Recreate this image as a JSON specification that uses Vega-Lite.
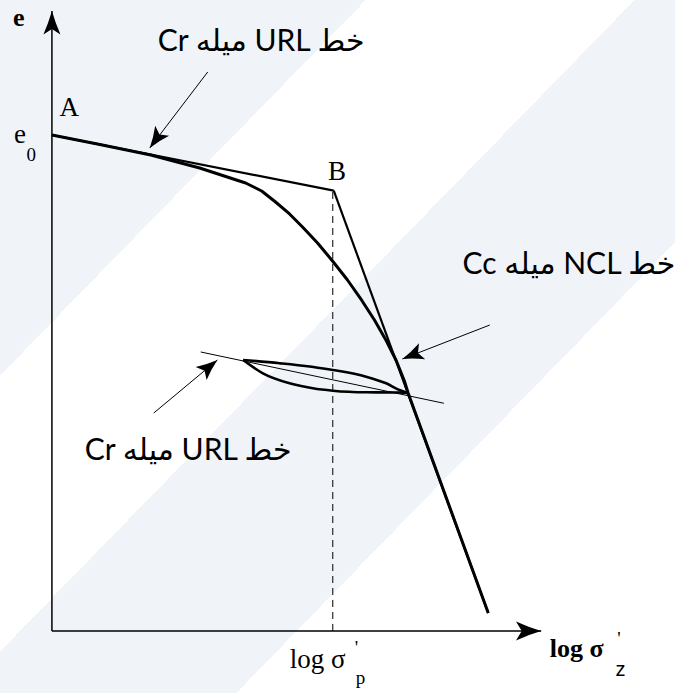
{
  "$schema": "https://vega.github.io/schema/vega-lite/v6.json",
  "width": 676,
  "height": 693,
  "autosize": {"type": "fit", "contains": "padding"},
  "padding": 0,
  "background": "white",
  "config": {"view": {"stroke": null}},
  "datasets": {
    "segments": [
      {"name": "URL initial (A-B)", "role": "main", "x": 0, "e": 8.0, "x2": 5.76, "e2": 7.102},
      {"name": "NCL (B-end)", "role": "main", "x": 5.76, "e": 7.102, "x2": 8.918, "e2": 0.29},
      {"name": "URL through loop", "role": "guide", "x": 3.041, "e": 4.5, "x2": 8.01, "e2": 3.673},
      {"name": "arrow 1", "role": "guide", "x": 3.184, "e": 9.016, "x2": 2.0, "e2": 7.79},
      {"name": "arrow 2", "role": "guide", "x": 8.949, "e": 4.935, "x2": 7.163, "e2": 4.387},
      {"name": "arrow 3", "role": "guide", "x": 2.082, "e": 3.516, "x2": 3.382, "e2": 4.371},
      {"name": "x axis", "role": "axis", "x": 0, "e": 0, "x2": 10, "e2": 0},
      {"name": "y axis", "role": "axis", "x": 0, "e": 0, "x2": 0, "e2": 10},
      {"name": "preconsolidation", "role": "projection", "x": 5.74, "e": 0, "x2": 5.74, "e2": 7.102}
    ],
    "curves": [
      {"branch": "virgin", "x": 0, "e": 8.0},
      {"branch": "virgin", "x": 0.98, "e": 7.847},
      {"branch": "virgin", "x": 2.02, "e": 7.677},
      {"branch": "virgin", "x": 3.02, "e": 7.468},
      {"branch": "virgin", "x": 3.959, "e": 7.226},
      {"branch": "virgin", "x": 4.286, "e": 7.097},
      {"branch": "virgin", "x": 4.571, "e": 6.919},
      {"branch": "virgin", "x": 4.857, "e": 6.726},
      {"branch": "virgin", "x": 5.122, "e": 6.516},
      {"branch": "virgin", "x": 5.429, "e": 6.258},
      {"branch": "virgin", "x": 5.735, "e": 5.968},
      {"branch": "virgin", "x": 6.041, "e": 5.661},
      {"branch": "virgin", "x": 6.327, "e": 5.339},
      {"branch": "virgin", "x": 6.592, "e": 5.016},
      {"branch": "virgin", "x": 6.837, "e": 4.677},
      {"branch": "virgin", "x": 7.041, "e": 4.355},
      {"branch": "virgin", "x": 7.204, "e": 4.032},
      {"branch": "virgin", "x": 7.28, "e": 3.839},
      {"branch": "virgin", "x": 8.918, "e": 0.29},
      {"branch": "unloading", "x": 3.908, "e": 4.371},
      {"branch": "unloading", "x": 4.653, "e": 4.318},
      {"branch": "unloading", "x": 5.741, "e": 4.21},
      {"branch": "unloading", "x": 6.422, "e": 4.102},
      {"branch": "unloading", "x": 6.831, "e": 3.995},
      {"branch": "unloading", "x": 7.102, "e": 3.887},
      {"branch": "unloading", "x": 7.27, "e": 3.839},
      {"branch": "reloading", "x": 3.908, "e": 4.371},
      {"branch": "reloading", "x": 4.312, "e": 4.156},
      {"branch": "reloading", "x": 4.857, "e": 3.995},
      {"branch": "reloading", "x": 5.333, "e": 3.915},
      {"branch": "reloading", "x": 5.741, "e": 3.876},
      {"branch": "reloading", "x": 6.422, "e": 3.85},
      {"branch": "reloading", "x": 7.102, "e": 3.847},
      {"branch": "reloading", "x": 7.27, "e": 3.839}
    ]
  },
  "layer": [
    {
      "data": {"values": [{"panel": "background"}]},
      "mark": {
        "type": "rect",
        "color": {
          "gradient": "linear",
          "x1": 0, "y1": 0, "x2": 1, "y2": 1,
          "stops": [
            {"offset": 0, "color": "#f0f4f9"},
            {"offset": 0.271, "color": "#f0f4f9"},
            {"offset": 0.271, "color": "#ffffff"},
            {"offset": 0.47, "color": "#ffffff"},
            {"offset": 0.47, "color": "#f0f4f9"},
            {"offset": 0.675, "color": "#f0f4f9"},
            {"offset": 0.675, "color": "#ffffff"},
            {"offset": 1, "color": "#ffffff"}
          ]
        }
      },
      "encoding": {}
    },
    {
      "data": {"name": "segments"},
      "transform": [{"filter": "datum.role === 'projection'"}],
      "mark": {"type": "rule", "color": "black", "strokeWidth": 1, "strokeDash": [7, 5]},
      "encoding": {
        "x": {"field": "x", "type": "quantitative", "scale": {"domain": [-1.0612, 12.7347], "nice": false, "zero": false}, "axis": null},
        "y": {"field": "e", "type": "quantitative", "scale": {"domain": [-1, 10.177], "nice": false, "zero": false}, "axis": null},
        "x2": {"field": "x2"},
        "y2": {"field": "e2"}
      }
    },
    {
      "data": {"name": "segments"},
      "transform": [{"filter": "datum.role === 'axis'"}],
      "mark": {"type": "rule", "color": "black", "strokeWidth": 1.5},
      "encoding": {
        "x": {"field": "x", "type": "quantitative", "scale": {"domain": [-1.0612, 12.7347], "nice": false, "zero": false}, "axis": null},
        "y": {"field": "e", "type": "quantitative", "scale": {"domain": [-1, 10.177], "nice": false, "zero": false}, "axis": null},
        "x2": {"field": "x2"},
        "y2": {"field": "e2"}
      }
    },
    {
      "data": {"name": "segments"},
      "transform": [{"filter": "datum.role === 'guide'"}],
      "mark": {"type": "rule", "color": "black", "strokeWidth": 1},
      "encoding": {
        "x": {"field": "x", "type": "quantitative", "scale": {"domain": [-1.0612, 12.7347], "nice": false, "zero": false}, "axis": null},
        "y": {"field": "e", "type": "quantitative", "scale": {"domain": [-1, 10.177], "nice": false, "zero": false}, "axis": null},
        "x2": {"field": "x2"},
        "y2": {"field": "e2"}
      }
    },
    {
      "data": {"name": "segments"},
      "transform": [{"filter": "datum.role === 'main'"}],
      "mark": {"type": "rule", "color": "black", "strokeWidth": 2.2, "strokeCap": "butt"},
      "encoding": {
        "x": {"field": "x", "type": "quantitative", "scale": {"domain": [-1.0612, 12.7347], "nice": false, "zero": false}, "axis": null},
        "y": {"field": "e", "type": "quantitative", "scale": {"domain": [-1, 10.177], "nice": false, "zero": false}, "axis": null},
        "x2": {"field": "x2"},
        "y2": {"field": "e2"}
      }
    },
    {
      "data": {"name": "curves"},
      "transform": [{"filter": "datum.branch === 'virgin'"}],
      "mark": {"type": "line", "color": "black", "strokeWidth": 3, "strokeJoin": "round", "strokeCap": "butt"},
      "encoding": {
        "x": {"field": "x", "type": "quantitative", "scale": {"domain": [-1.0612, 12.7347], "nice": false, "zero": false}, "axis": null},
        "y": {"field": "e", "type": "quantitative", "scale": {"domain": [-1, 10.177], "nice": false, "zero": false}, "axis": null}
      }
    },
    {
      "data": {"name": "curves"},
      "transform": [{"filter": "datum.branch !== 'virgin'"}],
      "mark": {"type": "line", "color": "black", "strokeWidth": 2.6, "strokeJoin": "round", "interpolate": "monotone"},
      "encoding": {
        "x": {"field": "x", "type": "quantitative", "scale": {"domain": [-1.0612, 12.7347], "nice": false, "zero": false}, "axis": null},
        "y": {"field": "e", "type": "quantitative", "scale": {"domain": [-1, 10.177], "nice": false, "zero": false}, "axis": null},
        "detail": {"field": "branch"}
      }
    },
    {
      "data": {"values": [{"x": 0, "e": 10}]},
      "mark": {"type": "point", "shape": "M0,0 Q-0.35,1.2 -0.85,2.35 L0,1.8 L0.85,2.35 Q0.35,1.2 0,0 Z", "filled": true, "color": "black", "opacity": 1, "size": 400, "angle": 0, "strokeWidth": 0},
      "encoding": {
        "x": {"field": "x", "type": "quantitative", "scale": {"domain": [-1.0612, 12.7347], "nice": false, "zero": false}, "axis": null},
        "y": {"field": "e", "type": "quantitative", "scale": {"domain": [-1, 10.177], "nice": false, "zero": false}, "axis": null}
      }
    },
    {
      "data": {"values": [{"x": 10, "e": 0}]},
      "mark": {"type": "point", "shape": "M0,0 Q-0.35,1.2 -0.9,2.4 L0,1.85 L0.9,2.4 Q0.35,1.2 0,0 Z", "filled": true, "color": "black", "opacity": 1, "size": 441, "angle": 90, "strokeWidth": 0},
      "encoding": {
        "x": {"field": "x", "type": "quantitative", "scale": {"domain": [-1.0612, 12.7347], "nice": false, "zero": false}, "axis": null},
        "y": {"field": "e", "type": "quantitative", "scale": {"domain": [-1, 10.177], "nice": false, "zero": false}, "axis": null}
      }
    },
    {
      "data": {"values": [{"x": 2.0, "e": 7.79}]},
      "mark": {"type": "point", "shape": "M0,0 Q-0.35,1.2 -0.95,2.35 L0,1.85 L0.95,2.35 Q0.35,1.2 0,0 Z", "filled": true, "color": "black", "opacity": 1, "size": 324, "angle": 215.8, "strokeWidth": 0},
      "encoding": {
        "x": {"field": "x", "type": "quantitative", "scale": {"domain": [-1.0612, 12.7347], "nice": false, "zero": false}, "axis": null},
        "y": {"field": "e", "type": "quantitative", "scale": {"domain": [-1, 10.177], "nice": false, "zero": false}, "axis": null}
      }
    },
    {
      "data": {"values": [{"x": 7.163, "e": 4.387}]},
      "mark": {"type": "point", "shape": "M0,0 Q-0.35,1.2 -0.95,2.35 L0,1.85 L0.95,2.35 Q0.35,1.2 0,0 Z", "filled": true, "color": "black", "opacity": 1, "size": 324, "angle": 248.8, "strokeWidth": 0},
      "encoding": {
        "x": {"field": "x", "type": "quantitative", "scale": {"domain": [-1.0612, 12.7347], "nice": false, "zero": false}, "axis": null},
        "y": {"field": "e", "type": "quantitative", "scale": {"domain": [-1, 10.177], "nice": false, "zero": false}, "axis": null}
      }
    },
    {
      "data": {"values": [{"x": 3.382, "e": 4.371}]},
      "mark": {"type": "point", "shape": "M0,0 Q-0.35,1.2 -0.95,2.35 L0,1.85 L0.95,2.35 Q0.35,1.2 0,0 Z", "filled": true, "color": "black", "opacity": 1, "size": 324, "angle": 50.2, "strokeWidth": 0},
      "encoding": {
        "x": {"field": "x", "type": "quantitative", "scale": {"domain": [-1.0612, 12.7347], "nice": false, "zero": false}, "axis": null},
        "y": {"field": "e", "type": "quantitative", "scale": {"domain": [-1, 10.177], "nice": false, "zero": false}, "axis": null}
      }
    },
    {
      "data": {"values": [
        {"x": 0.353, "e": 8.306, "label": "A"},
        {"x": 5.827, "e": 7.274, "label": "B"},
        {"x": -0.653, "e": 7.866, "label": "e"},
        {"x": 5.429, "e": -0.597, "label": "log σ"}
      ]},
      "mark": {"type": "text", "font": "Liberation Serif", "fontSize": 27, "color": "black", "align": "center", "baseline": "alphabetic"},
      "encoding": {
        "x": {"field": "x", "type": "quantitative", "scale": {"domain": [-1.0612, 12.7347], "nice": false, "zero": false}, "axis": null},
        "y": {"field": "e", "type": "quantitative", "scale": {"domain": [-1, 10.177], "nice": false, "zero": false}, "axis": null},
        "text": {"field": "label"}
      }
    },
    {
      "data": {"values": [
        {"x": -0.678, "e": 9.758, "label": "e"},
        {"x": 10.724, "e": -0.419, "label": "log σ"}
      ]},
      "mark": {"type": "text", "font": "Liberation Serif", "fontSize": 26, "fontWeight": "bold", "color": "black", "align": "center", "baseline": "alphabetic"},
      "encoding": {
        "x": {"field": "x", "type": "quantitative", "scale": {"domain": [-1.0612, 12.7347], "nice": false, "zero": false}, "axis": null},
        "y": {"field": "e", "type": "quantitative", "scale": {"domain": [-1, 10.177], "nice": false, "zero": false}, "axis": null},
        "text": {"field": "label"}
      }
    },
    {
      "data": {"values": [
        {"x": -0.422, "e": 7.585, "label": "0"},
        {"x": 6.306, "e": -0.855, "label": "p"},
        {"x": 6.224, "e": -0.371, "label": "'"},
        {"x": 11.59, "e": -0.226, "label": "'"}
      ]},
      "mark": {"type": "text", "font": "Liberation Serif", "fontSize": 19, "color": "black", "align": "center", "baseline": "alphabetic"},
      "encoding": {
        "x": {"field": "x", "type": "quantitative", "scale": {"domain": [-1.0612, 12.7347], "nice": false, "zero": false}, "axis": null},
        "y": {"field": "e", "type": "quantitative", "scale": {"domain": [-1, 10.177], "nice": false, "zero": false}, "axis": null},
        "text": {"field": "label"}
      }
    },
    {
      "data": {"values": [{"x": 11.622, "e": -0.726, "label": "z"}]},
      "mark": {"type": "text", "font": "Liberation Sans", "fontSize": 20, "color": "black", "align": "center", "baseline": "alphabetic"},
      "encoding": {
        "x": {"field": "x", "type": "quantitative", "scale": {"domain": [-1.0612, 12.7347], "nice": false, "zero": false}, "axis": null},
        "y": {"field": "e", "type": "quantitative", "scale": {"domain": [-1, 10.177], "nice": false, "zero": false}, "axis": null},
        "text": {"field": "label"}
      }
    },
    {
      "data": {"values": [
        {"x": 4.276, "e": 9.355, "label": "Cr میله URL خط"},
        {"x": 2.786, "e": 2.765, "label": "Cr میله URL خط"}
      ]},
      "mark": {"type": "text", "font": "Lato, DejaVu Sans", "fontSize": 30, "color": "black", "align": "center", "baseline": "alphabetic"},
      "encoding": {
        "x": {"field": "x", "type": "quantitative", "scale": {"domain": [-1.0612, 12.7347], "nice": false, "zero": false}, "axis": null},
        "y": {"field": "e", "type": "quantitative", "scale": {"domain": [-1, 10.177], "nice": false, "zero": false}, "axis": null},
        "text": {"field": "label"}
      }
    },
    {
      "data": {"values": [
        {"x": 8.394, "e": 5.758, "label": "Cc میله NCL خط"}
      ]},
      "mark": {"type": "text", "font": "Lato, DejaVu Sans", "fontSize": 30, "color": "black", "align": "left", "baseline": "alphabetic"},
      "encoding": {
        "x": {"field": "x", "type": "quantitative", "scale": {"domain": [-1.0612, 12.7347], "nice": false, "zero": false}, "axis": null},
        "y": {"field": "e", "type": "quantitative", "scale": {"domain": [-1, 10.177], "nice": false, "zero": false}, "axis": null},
        "text": {"field": "label"}
      }
    }
  ]
}
